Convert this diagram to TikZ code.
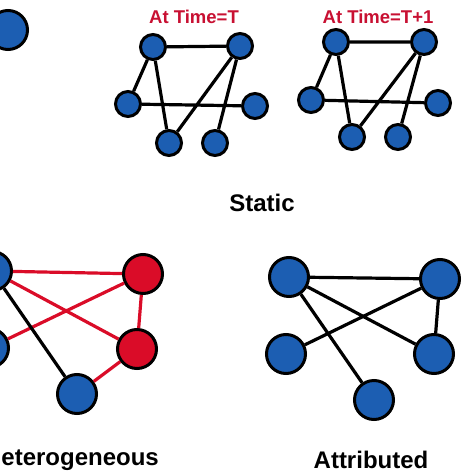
\documentclass[tikz,border=0pt]{standalone}
\usepackage{fontspec}
\setmainfont{Liberation Sans}
\definecolor{nblue}{RGB}{28,94,178}
\definecolor{nred}{RGB}{218,12,40}
\definecolor{lred}{RGB}{200,16,50}
\begin{document}
\begin{tikzpicture}[x=1pt,y=-1pt,
  sm/.style={circle,draw=black,line width=3pt,fill=nblue,minimum size=25pt,inner sep=0pt},
  bg/.style={circle,draw=black,line width=3pt,fill=nblue,minimum size=39pt,inner sep=0pt},
  bgr/.style={bg,fill=nred},
  edge/.style={line width=3.2pt,black},
  redge/.style={line width=3.2pt,nred},
  ttl/.style={font=\bfseries\fontsize{24}{24}\selectfont,inner sep=0pt},
  tl/.style={font=\bfseries\fontsize{18.5}{18.5}\selectfont,text=lred,inner sep=0pt}]
\useasboundingbox (0,0) rectangle (474,474);
% partial top-left
\node[bg] (h1) at (8,30) {};
% Time = T
\node[tl] (lt) at (194,17) {At Time=T};
\node[sm] (a) at (153,47) {};
\node[sm] (b) at (240,46) {};
\node[sm] (c) at (128,104) {};
\node[sm] (d) at (169,143) {};
\node[sm] (e) at (215,143) {};
\node[sm] (f) at (255,106) {};
\draw[edge] (a) -- (b) (a) -- (c) (a) -- (d) (b) -- (d) (b) -- (e) (c) -- (f);
% Time = T+1
\node[tl] (lt1) at (378,17) {At Time=T+1};
\node[sm] (a1) at (336,42) {};
\node[sm] (b1) at (424,42) {};
\node[sm] (c1) at (311,100) {};
\node[sm] (d1) at (352,137) {};
\node[sm] (e1) at (398,137) {};
\node[sm] (f1) at (438,103) {};
\draw[edge] (a1) -- (b1) (a1) -- (c1) (a1) -- (d1) (b1) -- (d1) (b1) -- (e1) (c1) -- (f1);
\node[ttl] (st) at (262,203) {Static};
% Heterogeneous
\node[bg] (p1) at (-8,271) {};
\node[bgr] (p2) at (143,274) {};
\node[bg] (p3) at (-11,348) {};
\node[bgr] (p4) at (137,349) {};
\node[bg] (p5) at (77,394) {};
\draw[redge] (p1) -- (p2) (p1) -- (p4) (p3) -- (p2) (p2) -- (p4) (p4) -- (p5);
\draw[edge] (p1) -- (p5);
\node[ttl,anchor=east] (ht) at (159,460) {Heterogeneous};
% Attributed
\node[bg] (q1) at (289,277) {};
\node[bg] (q2) at (440,279) {};
\node[bg] (q3) at (286,354) {};
\node[bg] (q4) at (434,354) {};
\node[bg] (q5) at (374,400) {};
\draw[edge] (q1) -- (q2) (q1) -- (q4) (q1) -- (q5) (q3) -- (q2) (q2) -- (q4);
\node[ttl] (at) at (371,460) {Attributed};
\end{tikzpicture}
\end{document}
